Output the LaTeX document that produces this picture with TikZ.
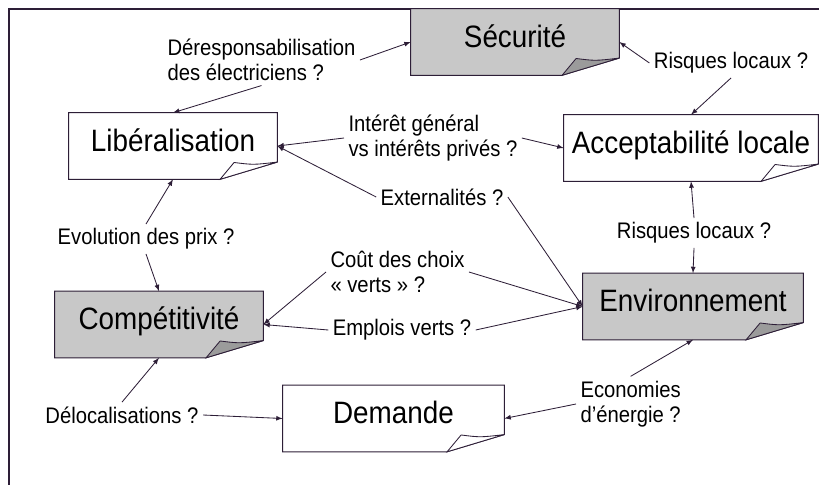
\documentclass[tikz,border=0pt]{standalone}
\usepackage{fontspec}
\setmainfont{Liberation Sans}[FakeStretch=0.9]
\usetikzlibrary{shapes}
\usetikzlibrary{arrows}
\usetikzlibrary{backgrounds}
\definecolor{ink}{RGB}{45,30,55}
\definecolor{boxgray}{RGB}{200,200,200}
\definecolor{flapgray}{RGB}{155,155,155}
\newcommand{\foldbox}[3]{%
	\filldraw[draw=ink, line width=0.7pt, fill=#2] (#1.north west) -- (#1.north east) -- ([yshift=0.43cm]#1.south east) -- ([xshift=-1.43cm]#1.south east) -- (#1.south west) -- cycle;
	\filldraw[draw=ink, line width=0.6pt, fill=#3] ([xshift=-1.43cm]#1.south east) -- ([xshift=-1.08cm,yshift=0.42cm]#1.south east) .. controls ([xshift=-0.6cm,yshift=0.36cm]#1.south east) .. ([yshift=0.43cm]#1.south east) -- cycle;}

\begin{document}
\begin{tikzpicture}[x=0.025cm, y=-0.025cm]
					\tikzstyle{box}=[rectangle, minimum width=5.2cm, minimum height=1.65cm, inner sep=0pt, text height=0.6cm, text depth=0.33cm, font=\fontsize{22}{26}\selectfont]
					\tikzstyle{cmt}=[inner sep=3pt, align=left, font=\fontsize{16}{18}\selectfont]
					\tikzstyle{link}=[draw=ink, line width=0.6pt, -latex]
					
					\useasboundingbox (0,0) rectangle (819,485);
					
					\node[box] (secu) at (515,42) {Sécurité};
					\node[box] (lib) at (173,146) {Libéralisation};
					\node[box, minimum width=6.35cm] (accept) at (691,148) {Acceptabilité locale};
					\node[box] (comp) at (159,324.5) {Compétitivité};
					\node[box, minimum width=5.5cm] (env) at (693,306.5) {Environnement};
					\node[box, minimum width=5.525cm] (dem) at (393.5,418.5) {Demande};
					
					\node[cmt, anchor=west] (dresp) at (163,60) {Déresponsabilisation\\des électriciens ?};
					\node[cmt] (risq1) at (731,63) {Risques locaux ?};
					\node[cmt, anchor=west] (inter) at (344,138) {Intérêt général\\vs intérêts privés ?};
					\node[cmt] (extern) at (442,197) {Externalités ?};
					\node[cmt] (evol) at (146,239) {Evolution des prix ?};
					\node[cmt] (risq2) at (694,233) {Risques locaux ?};
					\node[cmt, anchor=west] (cout) at (326,272) {Coût des choix\\« verts » ?};
					\node[cmt] (emplois) at (402,330) {Emplois verts ?};
					\node[cmt] (deloc) at (122,415) {Délocalisations ?};
					\node[cmt, anchor=west] (econ) at (576,404) {Economies\\d'énergie ?};
					
					\begin{pgfonlayer}{background}
					\draw[ink, line width=0.8pt] (819,9) -- (9,9) -- (9,485);
					\foldbox{secu}{boxgray}{flapgray}
					\foldbox{lib}{white}{white}
					\foldbox{accept}{white}{white}
					\foldbox{comp}{boxgray}{flapgray}
					\foldbox{env}{boxgray}{flapgray}
					\foldbox{dem}{white}{white}
					\end{pgfonlayer}
					
					\draw[link] (dresp.east) -- (secu.west);
					\draw[link] (dresp.south) -- (lib.north);
					\draw[link] (risq1.west) -- (secu.east);
					\draw[link] (risq1.south) -- (accept.north);
					\draw[link] (inter.west) -- (lib.east);
					\draw[link] (inter.east) -- (accept.west);
					\draw[link] (extern.west) -- (lib.east);
					\draw[link] (extern.east) -- (env.west);
					\draw[link] (evol.north) -- (lib.south);
					\draw[link] (evol.south) -- (comp.north);
					\draw[link] (risq2.north) -- (accept.south);
					\draw[link] (risq2.south) -- (env.north);
					\draw[link] (cout.west) -- (comp.east);
					\draw[link] (cout.east) -- (env.west);
					\draw[link] (emplois.west) -- (comp.east);
					\draw[link] (emplois.east) -- (env.west);
					\draw[link] (deloc.east) -- (dem.west);
					\draw[link] (deloc.north) -- (comp.south);
					\draw[link] (econ.west) -- (dem.east);
					\draw[link] (econ.north) -- (env.south);
					
					\end{tikzpicture}
\end{document}
